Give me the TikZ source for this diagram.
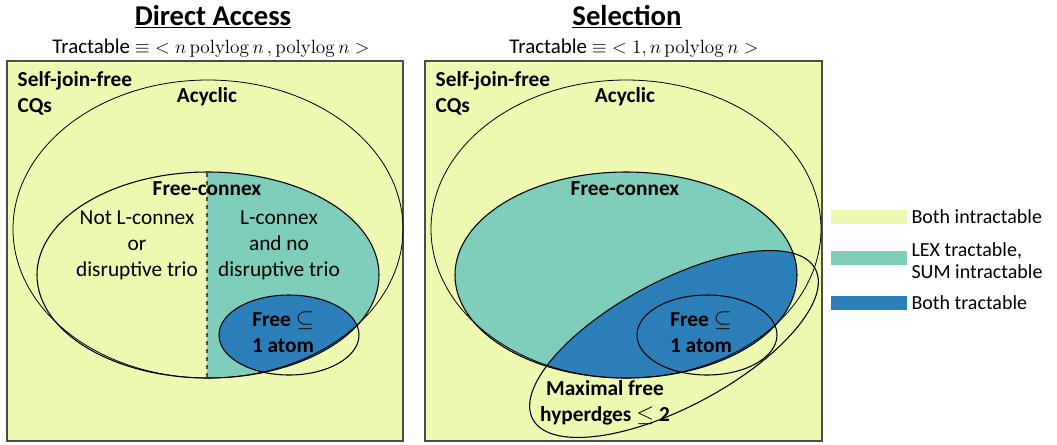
\documentclass[tikz,border=0pt]{standalone}
\usepackage[no-math]{fontspec}
\setmainfont{Carlito}
\usepackage{tikz}
\usetikzlibrary{positioning}
\definecolor{intractcol}{HTML}{EDF8B1}
\definecolor{lexcol}{HTML}{7FCDBB}
\definecolor{tractcol}{HTML}{2C7FB8}

\begin{document}
\begin{tikzpicture}[x=0.75pt, y=-0.75pt, node distance=19.5pt,
    txt/.style={align=center, font=\fontsize{16}{19.5}\selectfont},
    bld/.style={txt, font=\fontsize{16}{19.5}\selectfont\bfseries},
    swatch/.style={rectangle, minimum width=57pt, minimum height=10.5pt, inner sep=0pt},
    legtxt/.style={align=left, inner sep=3pt, font=\fontsize{15}{16.5}\selectfont}]
  \useasboundingbox (0,0) rectangle (1057,444);

  % titoli
  \node (titL) [inner sep=1pt] at (213,17) {\fontsize{21.5}{24}\selectfont\bfseries\underline{Direct Access}};
  \node (subL) [inner sep=1pt] at (211,48) {\fontsize{15.7}{19}\selectfont Tractable $\equiv\;<n\,\mathrm{polylog}\,n\,,\mathrm{polylog}\,n>$};
  \node (titR) [inner sep=1pt] at (627,17) {\fontsize{21.5}{24}\selectfont\bfseries\underline{Selection}};
  \node (subR) [inner sep=1pt] at (634,48) {\fontsize{15.7}{19}\selectfont Tractable $\equiv\;<1,n\,\mathrm{polylog}\,n>$};

  % pannello sinistro
  \fill[intractcol] (7,61) rectangle (403,441);
  \begin{scope}
    \clip (208,275) ellipse [x radius=171, y radius=103];
    \fill[lexcol] (207,150) rectangle (400,400);
    \fill[tractcol] (289,335) ellipse [x radius=70, y radius=40];
  \end{scope}
  \draw[black!70, line width=0.8pt] (7,61) rectangle (403,441);
  \draw[line width=0.6pt] (208,229) ellipse [x radius=195, y radius=149];
  \draw[line width=0.8pt] (208,275) ellipse [x radius=171, y radius=103];
  \draw[line width=0.8pt] (289,335) ellipse [x radius=70, y radius=40];
  \draw[black!70, dashed, line width=0.8pt] (207,173) -- (207,378);

  \node (sjfL) [bld, align=left, anchor=west] at (13,93) {Self-join-free\\CQs};
  \node (acyL) [bld] at (207,97) {Acyclic};
  \node (fcL) [bld] at (207,189) {Free-connex};
  \node (notl) [txt] at (137,245) {Not L-connex\\or\\disruptive trio};
  \node (lcon) [txt] at (279,245) {L-connex\\and no\\disruptive trio};
  \node (atomL) [bld] at (283,332) {Free $\subseteq$\\1 atom};

  % pannello destro
  \fill[intractcol] (425,61) rectangle (822,441);
  \fill[lexcol] (626,275) ellipse [x radius=171, y radius=103];
  \begin{scope}
    \clip (626,275) ellipse [x radius=171, y radius=103];
    \fill[tractcol] (674,344) ellipse [x radius=160, y radius=63, rotate=28];
    \fill[tractcol] (707,335) ellipse [x radius=70, y radius=40];
  \end{scope}
  \draw[black!70, line width=0.8pt] (425,61) rectangle (822,441);
  \draw[line width=0.6pt] (626,229) ellipse [x radius=195, y radius=149];
  \draw[line width=0.8pt] (626,275) ellipse [x radius=171, y radius=103];
  \draw[line width=0.8pt] (707,335) ellipse [x radius=70, y radius=40];
  \draw[line width=0.8pt] (674,344) ellipse [x radius=160, y radius=63, rotate=28];

  \node (sjfR) [bld, align=left, anchor=west] at (431,93) {Self-join-free\\CQs};
  \node (acyR) [bld] at (625,97) {Acyclic};
  \node (fcR) [bld] at (625,189) {Free-connex};
  \node (atomR) [bld] at (701,332) {Free $\subseteq$\\1 atom};
  \node (maxR) [bld] at (605,403) {Maximal free\\hyperdges $\leq$ 2};

  % legenda
  \node (sw1) [swatch, fill=intractcol] at (869,217) {};
  \node (sw2) [swatch, fill=lexcol, below=of sw1] {};
  \node (sw3) [swatch, fill=tractcol, below=23pt of sw2] {};
  \node (lg1) [legtxt, right=0pt of sw1] {Both intractable};
  \node (lg2) [legtxt, right=0pt of sw2, yshift=-2pt] {LEX tractable,\\SUM intractable};
  \node (lg3) [legtxt, right=0pt of sw3] {Both tractable};
\end{tikzpicture}
\end{document}
